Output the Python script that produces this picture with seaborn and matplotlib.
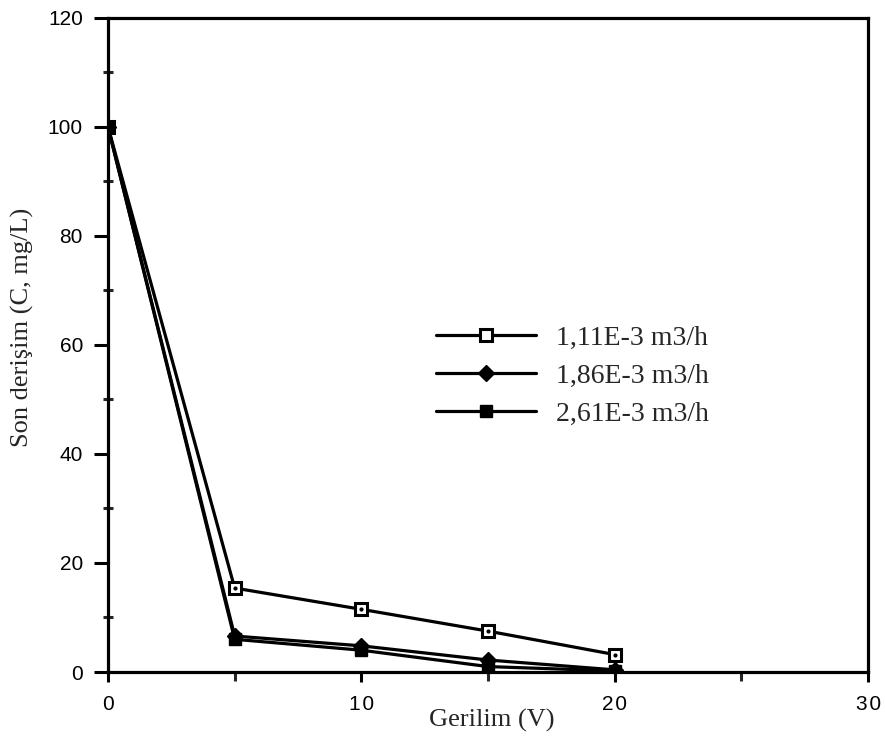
import matplotlib
matplotlib.use("Agg")
import matplotlib.pyplot as plt
import seaborn as sns
import pandas as pd
from matplotlib.ticker import MultipleLocator
from matplotlib.lines import Line2D

# ---- data ----
voltage = [0, 5, 10, 15, 20]
series_names = ["1,11E-3 m3/h", "1,86E-3 m3/h", "2,61E-3 m3/h"]
conc_111 = [100, 15.4, 11.5, 7.5, 3.2]
conc_186 = [100, 6.6, 4.8, 2.2, 0.4]
conc_261 = [100, 6.0, 4.0, 1.0, 0.2]

x_ticks = [0, 10, 20, 30]
x_tick_labels = ["0", "1\u200a0", "2\u200a0", "3\u200a0"]
y_ticks = [0, 20, 40, 60, 80, 100, 120]

df = pd.DataFrame({
    "Gerilim": voltage * 3,
    "C": conc_111 + conc_186 + conc_261,
    "Seri": [series_names[0]] * 5 + [series_names[1]] * 5 + [series_names[2]] * 5,
})

sns.set_style("ticks")
plt.rcParams["font.family"] = ["Liberation Sans", "DejaVu Sans"]

fig = plt.figure(figsize=(8.85, 7.42), dpi=100)
ax = fig.add_axes([0.122, 0.0943, 0.859, 0.882])

styles = {
    series_names[0]: dict(marker="s", mfc="white", mec="black", ms=9, mew=2.2),
    series_names[1]: dict(marker="D", mfc="black", mec="black", ms=8, mew=1),
    series_names[2]: dict(marker="s", mfc="black", mec="black", ms=9, mew=1),
}
LW = 2.3

for name in series_names:
    sub = df[df["Seri"] == name]
    sns.lineplot(data=sub, x="Gerilim", y="C", ax=ax, color="black",
                 linewidth=LW, legend=False, **styles[name])
    if name == series_names[0]:
        ax.plot(sub["Gerilim"], sub["C"], linestyle="none", marker="o",
                ms=2, color="black", zorder=5)

ax.set_xlim(0, 30)
ax.set_ylim(0, 120)
ax.set_xticks(x_ticks)
ax.set_xticklabels(x_tick_labels)
ax.set_yticks(y_ticks)
ax.xaxis.set_minor_locator(MultipleLocator(5))
ax.yaxis.set_minor_locator(MultipleLocator(10))
ax.tick_params(axis="x", which="major", direction="out", length=7.5, width=2.2,
               labelsize=15, pad=9, color="black", labelcolor="black")
ax.tick_params(axis="y", which="major", direction="out", length=10, width=2.2,
               labelsize=15, pad=8, color="black", labelcolor="black")
ax.tick_params(axis="x", which="minor", direction="out", length=6.5, width=2.2)
ax.tick_params(axis="y", which="minor", direction="inout", length=7, width=2.2)
for sp in ax.spines.values():
    sp.set_linewidth(2.3)
    sp.set_color("black")

ax.set_xlabel("Gerilim (V)", family=["Liberation Serif"], fontsize=19)
ax.set_ylabel("Son derişim (C, mg/L)", family=["Liberation Serif"], fontsize=19)
ax.xaxis.set_label_coords(0.505, -0.057)
ax.yaxis.set_label_coords(-0.112, 0.526)
ax.yaxis.label.set_va("center")

handles = []
for name in series_names:
    st = styles[name]
    handles.append(Line2D([0], [0], color="black", linewidth=LW, **st))
leg = ax.legend(handles, series_names, loc="upper left", bbox_to_anchor=(0.431, 0.53),
                frameon=False, handlelength=3.6, handletextpad=0.75, labelspacing=0.45,
                borderaxespad=0, borderpad=0,
                prop={"family": "Liberation Serif", "size": 20})

fig.savefig("out.png", dpi=100)
